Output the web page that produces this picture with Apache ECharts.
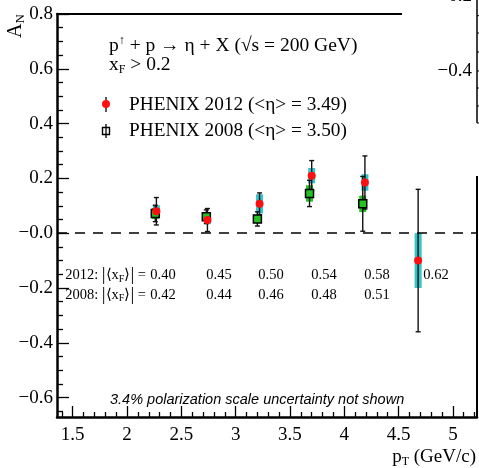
<!DOCTYPE html>
<html><head><meta charset="utf-8">
<script src="https://cdn.jsdelivr.net/npm/echarts@6/dist/echarts.min.js"></script>
<style>html,body{margin:0;padding:0;background:#fff}#c{width:479px;height:468px}</style>
</head><body><div id="c"></div>
<script>
// ---- data ----
const pT2012 = [2.27, 2.74, 3.22, 3.70, 4.19, 4.68];
const AN2012 = [0.080, 0.048, 0.107, 0.210, 0.185, -0.100];
const stat2012 = [0.050, 0.042, 0.040, 0.055, 0.097, 0.260];
const sys2012 = [0.022, 0.015, 0.035, 0.028, 0.030, 0.100];

const pT2008 = [2.26, 2.73, 3.20, 3.68, 4.17];
const AN2008 = [0.072, 0.060, 0.052, 0.145, 0.107];
const stat2008 = [0.030, 0.025, 0.026, 0.048, 0.100];
const sys2008 = [0.020, 0.015, 0.015, 0.030, 0.030];

const xF2012 = ['0.40', '0.45', '0.50', '0.54', '0.58', '0.62'];
const xF2008 = ['0.42', '0.44', '0.46', '0.48', '0.51'];

const xMajorTicks = [1.5, 2, 2.5, 3, 3.5, 4, 4.5, 5];
const xMinorTicks = [1.4, 1.6, 1.7, 1.8, 1.9, 2.1, 2.2, 2.3, 2.4, 2.6, 2.7, 2.8, 2.9, 3.1, 3.2, 3.3, 3.4, 3.6, 3.7, 3.8, 3.9, 4.1, 4.2, 4.3, 4.4, 4.6, 4.7, 4.8, 4.9, 5.1, 5.2];
const yMajorTicks = [-0.6, -0.4, -0.2, 0, 0.2, 0.4, 0.6, 0.8];
const yMinorTicks = [-0.65, -0.55, -0.5, -0.45, -0.35, -0.3, -0.25, -0.15, -0.1, -0.05, 0.05, 0.1, 0.15, 0.25, 0.3, 0.35, 0.45, 0.5, 0.55, 0.65, 0.7, 0.75];
const fragTicks = [15.7, 33, 52, 71, 88, 106, 123];

// ---- styling ----
const SERIF = 'Liberation Serif';
const SANS = 'Liberation Sans';
const XMIN = 1.355, XMAX = 5.222, YMIN = -0.671, YMAX = 0.8;
const CYAN = '#33c3cb', GREEN = '#22c322', RED = '#ff1010';

const data2012 = pT2012.map((x, i) => [x, AN2012[i], stat2012[i], sys2012[i]]);
const data2008 = pT2008.map((x, i) => [x, AN2008[i], stat2008[i], sys2008[i]]);

function sysBand(color) {
  return function (params, api) {
    const x = api.value(0), y = api.value(1), s = api.value(3);
    const p1 = api.coord([x, y + s]), p2 = api.coord([x, y - s]);
    return { type: 'rect', shape: { x: p1[0] - 3.5, y: p1[1], width: 7, height: p2[1] - p1[1] }, style: { fill: color } };
  };
}
function statBar(params, api) {
  const x = api.value(0), y = api.value(1), e = api.value(2);
  const t = api.coord([x, y + e]), b = api.coord([x, y - e]);
  const st = { stroke: '#111', lineWidth: 1.4 };
  return { type: 'group', children: [
    { type: 'line', shape: { x1: t[0], y1: t[1], x2: b[0], y2: b[1] }, style: st },
    { type: 'line', shape: { x1: t[0] - 2.5, y1: t[1], x2: t[0] + 2.5, y2: t[1] }, style: st },
    { type: 'line', shape: { x1: b[0] - 2.5, y1: b[1], x2: b[0] + 2.5, y2: b[1] }, style: st }
  ] };
}
const fmtY = v => { const r = Math.round(v * 10) / 10; if (r === 0) return '\u22120.0'; return r < 0 ? '\u2212' + Math.abs(r).toFixed(1) : r.toFixed(1); };
const fmtX = v => Number.isInteger(v) ? String(v) : v.toFixed(1);

function baseX(extra) {
  return Object.assign({ type: 'value', min: XMIN, max: XMAX, gridIndex: 0, splitLine: { show: false },
    axisLine: { show: false, onZero: false }, axisTick: { show: false }, axisLabel: { show: false } }, extra);
}
function baseY(extra) {
  return Object.assign({ type: 'value', min: YMIN, max: YMAX, gridIndex: 0, splitLine: { show: false },
    axisLine: { show: false, onZero: false }, axisTick: { show: false }, axisLabel: { show: false } }, extra);
}

const T = (text, x, y, opt) => ({ type: 'text', x: x, y: y, z: 100, style: Object.assign({ text: text, fill: '#000', fontFamily: SERIF, fontSize: 19, textVerticalAlign: 'middle' }, opt || {}) });

const graphics = [
  // cover of top-right region (adjacent panel)
  { type: 'rect', z: 90, shape: { x: 402, y: 0, width: 77, height: 176 }, style: { fill: '#fff' } },
  { type: 'line', z: 100, shape: { x1: 477, y1: 0, x2: 477, y2: 123 }, style: { stroke: '#000', lineWidth: 1.5 } },
  T('\u22120.4', 472, 71, { textAlign: 'right' }),
  T('\u22120.2', 472, -4, { textAlign: 'right' }),
  // title / annotations
  { type: 'text', x: 109, y: 46, z: 100, style: { text: '{a|p}{sup|\u2191}{a| + p \u2192 \u03b7 + X (\u221as = 200 GeV)}', textVerticalAlign: 'middle',
      rich: { a: { fontFamily: SERIF, fontSize: 19.5, fill: '#000' }, sup: { fontFamily: SERIF, fontSize: 12, fill: '#000', padding: [0, 0, 10, 0] } } } },
  { type: 'text', x: 109, y: 65, z: 100, style: { text: '{a|x}{sub|F}{a| > 0.2}', textVerticalAlign: 'middle',
      rich: { a: { fontFamily: SERIF, fontSize: 19.5, fill: '#000' }, sub: { fontFamily: SERIF, fontSize: 12, fill: '#000', padding: [9, 0, 0, 0] } } } },
  T('PHENIX 2012 (<\u03b7> = 3.49)', 129, 104.5, { fontSize: 19.3 }),
  T('PHENIX 2008 (<\u03b7> = 3.50)', 129, 130.5, { fontSize: 19.3 }),
  { type: 'line', z: 100, shape: { x1: 106, y1: 97, x2: 106, y2: 112 }, style: { stroke: '#000', lineWidth: 1.3 } },
  { type: 'circle', z: 101, shape: { cx: 106, cy: 104, r: 4 }, style: { fill: RED } },
  { type: 'line', z: 100, shape: { x1: 106, y1: 124, x2: 106, y2: 138 }, style: { stroke: '#000', lineWidth: 1.3 } },
  { type: 'rect', z: 101, shape: { x: 102.5, y: 127.5, width: 7, height: 7 }, style: { fill: 'none', stroke: '#000', lineWidth: 1.4 } },
  // axis titles
  { type: 'text', x: 16, y: 26, rotation: Math.PI / 2, z: 100, style: { text: '{a|A}{sub|N}', textAlign: 'center', textVerticalAlign: 'middle',
      rich: { a: { fontFamily: SERIF, fontSize: 20, fill: '#000' }, sub: { fontFamily: SERIF, fontSize: 13, fill: '#000', padding: [10, 0, 0, 0] } } } },
  { type: 'text', x: 476, y: 457, z: 100, style: { text: '{a|p}{sub|T}{a| (GeV/c)}', textAlign: 'right', textVerticalAlign: 'middle',
      rich: { a: { fontFamily: SERIF, fontSize: 19, fill: '#000' }, sub: { fontFamily: SERIF, fontSize: 12, fill: '#000', padding: [10, 0, 0, 0] } } } },
  // <x_F> rows
  { type: 'text', x: 146, y: 275.5, z: 100, style: { text: '{a|2012: }{b||}{a|\u27e8x}{sub|F}{a|\u27e9}{b||}{a| =}', textAlign: 'right', textVerticalAlign: 'middle',
      rich: { a: { fontFamily: SERIF, fontSize: 14.5, fill: '#000' }, b: { fontFamily: SERIF, fontSize: 19, fill: '#000' }, sub: { fontFamily: SERIF, fontSize: 10, fill: '#000', padding: [7, 0, 0, 0] } } } },
  { type: 'text', x: 146, y: 295, z: 100, style: { text: '{a|2008: }{b||}{a|\u27e8x}{sub|F}{a|\u27e9}{b||}{a| =}', textAlign: 'right', textVerticalAlign: 'middle',
      rich: { a: { fontFamily: SERIF, fontSize: 14.5, fill: '#000' }, b: { fontFamily: SERIF, fontSize: 19, fill: '#000' }, sub: { fontFamily: SERIF, fontSize: 10, fill: '#000', padding: [7, 0, 0, 0] } } } },
  T('3.4% polarization scale uncertainty not shown', 110, 400, { fontFamily: SANS, fontStyle: 'italic', fontSize: 14.5 })
];
fragTicks.forEach(y => graphics.push({ type: 'line', z: 100, shape: { x1: 477, y1: y, x2: y === 71 ? 482 : 480, y2: y }, style: { stroke: '#000', lineWidth: 1 } }));
const xFPos = [163, 219, 271, 324, 377, 436];
xF2012.forEach((t, i) => graphics.push(T(t, xFPos[i], 275.5, { fontSize: 14.5, textAlign: 'center' })));
xF2008.forEach((t, i) => graphics.push(T(t, xFPos[i], 295, { fontSize: 14.5, textAlign: 'center' })));

const chart = echarts.init(document.getElementById('c'), null, { renderer: 'canvas' });
chart.setOption({
  animation: false,
  backgroundColor: '#fff',
  textStyle: { fontFamily: SERIF },
  grid: { left: 57, top: 14, width: 420, height: 403, containLabel: false },
  xAxis: [
    baseX({ position: 'bottom', axisLine: { show: true, onZero: false, lineStyle: { color: '#000', width: 2.5 } },
      axisTick: { show: true, inside: true, length: 5, customValues: xMinorTicks, lineStyle: { color: '#000', width: 1.3 } },
      axisLabel: { show: true, customValues: xMajorTicks, formatter: fmtX, color: '#000', fontFamily: SERIF, fontSize: 19, margin: 9 } }),
    baseX({ position: 'bottom', axisTick: { show: true, inside: true, length: 11, customValues: xMajorTicks, lineStyle: { color: '#000', width: 1.3 } } }),
    baseX({ position: 'top', axisLine: { show: true, onZero: false, lineStyle: { color: '#000', width: 2 } } })
  ],
  yAxis: [
    baseY({ position: 'left', axisLine: { show: true, onZero: false, lineStyle: { color: '#000', width: 2.5 } },
      axisTick: { show: true, inside: true, length: 6, customValues: yMinorTicks, lineStyle: { color: '#000', width: 1.3 } },
      axisLabel: { show: true, customValues: yMajorTicks, formatter: fmtY, color: '#000', fontFamily: SERIF, fontSize: 19, margin: 4 } }),
    baseY({ position: 'left', axisTick: { show: true, inside: true, length: 12, customValues: yMajorTicks, lineStyle: { color: '#000', width: 1.3 } } }),
    baseY({ position: 'right', axisLine: { show: true, onZero: false, lineStyle: { color: '#000', width: 2 } } })
  ],
  series: [
    { type: 'custom', name: 'sys2008', xAxisIndex: 0, yAxisIndex: 0, z: 2, renderItem: sysBand(GREEN), data: data2008 },
    { type: 'custom', name: 'sys2012', xAxisIndex: 0, yAxisIndex: 0, z: 3, renderItem: sysBand(CYAN), data: data2012 },
    { type: 'custom', name: 'stat2008', xAxisIndex: 0, yAxisIndex: 0, z: 4, renderItem: statBar, data: data2008 },
    { type: 'custom', name: 'stat2012', xAxisIndex: 0, yAxisIndex: 0, z: 4, renderItem: statBar, data: data2012 },
    { type: 'scatter', name: 'PHENIX 2008', xAxisIndex: 0, yAxisIndex: 0, z: 5, symbol: 'rect', symbolSize: 8,
      itemStyle: { color: GREEN, borderColor: '#000', borderWidth: 1.5, opacity: 1 }, data: data2008.map(d => [d[0], d[1]]),
      markLine: { silent: true, symbol: 'none', label: { show: false }, lineStyle: { type: [10, 8], color: '#000', width: 1.5 }, data: [{ yAxis: 0 }] } },
    { type: 'scatter', name: 'PHENIX 2012', xAxisIndex: 0, yAxisIndex: 0, z: 6, symbol: 'circle', symbolSize: 8,
      itemStyle: { color: RED, opacity: 1 }, data: data2012.map(d => [d[0], d[1]]) }
  ],
  graphic: { elements: graphics }
});
</script></body></html>
